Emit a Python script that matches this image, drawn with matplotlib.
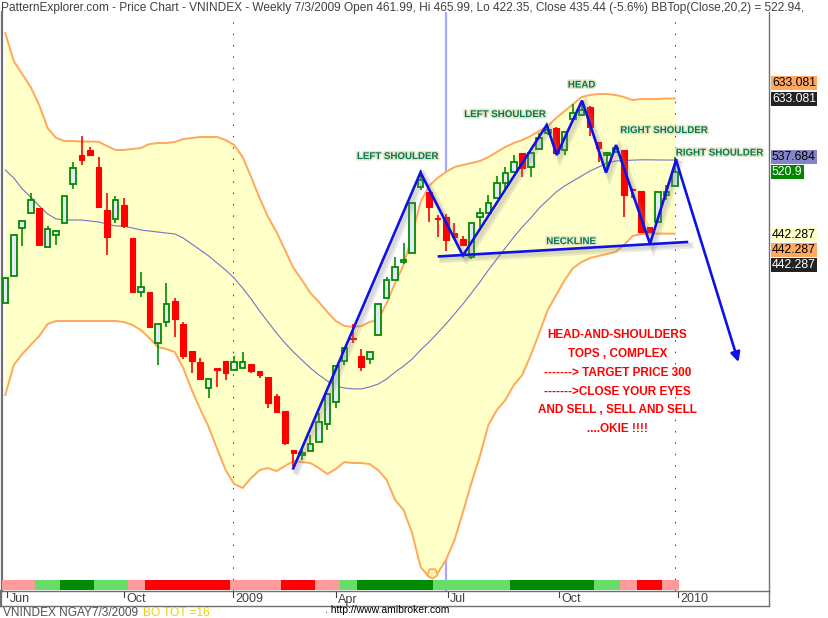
import numpy as np
import matplotlib
matplotlib.use("Agg")
import matplotlib.pyplot as plt
from matplotlib.lines import Line2D
from matplotlib.patches import Rectangle
import matplotlib.patheffects as pe
import matplotlib.transforms as mtransforms

plt.rcParams['font.family'] = ['Liberation Sans', 'DejaVu Sans']

# ---------------- data (weekly VNINDEX, Jun 2008 - Jan 2010) ----------------
opens = [367.7, 395.8, 448.4, 467.2, 473.4, 426.6, 440.4, 455.0, 504.2, 545.3,
         552.2, 527.8, 470.9, 459.5, 477.2, 437.2, 378.5, 378.8, 330.7, 349.6,
         369.9, 348.1, 324.0, 314.6, 293.5, 309.6, 315.4, 307.8, 309.9, 312.8,
         307.2, 302.7, 287.6, 276.2, 249.1, 245.8, 248.4, 254.3, 266.8, 282.8,
         315.4, 335.5, 320.0, 317.1, 337.6, 372.4, 390.8, 410.2, 419.9, 500.3,
         494.4, 461.5, 461.99, 443.0, 436.3, 416.1, 462.3, 467.2, 485.7, 505.6,
         520.9, 547.8, 527.8, 553.3, 577.2, 585.8, 552.2, 599.0, 605.8, 619.2,
         564.5, 544.9, 549.7, 552.2, 497.3, 495.3, 450.6, 456.6, 490.1, 501.4]
highs = [392.9, 440.7, 457.1, 492.7, 473.4, 451.0, 446.5, 488.4, 534.9, 573.1,
         556.3, 542.6, 493.1, 488.8, 486.1, 437.2, 399.5, 378.8, 347.8, 388.0,
         372.5, 349.6, 324.0, 317.6, 300.6, 310.1, 315.4, 319.7, 323.1, 312.8,
         307.2, 302.7, 289.1, 276.2, 249.1, 249.1, 259.2, 274.6, 288.8, 311.7,
         326.3, 347.9, 325.5, 322.9, 366.7, 394.6, 416.2, 431.1, 479.4, 523.7,
         494.4, 464.8, 465.99, 455.3, 439.5, 454.6, 473.4, 490.1, 515.4, 527.8,
         544.9, 547.8, 547.8, 577.2, 589.2, 587.0, 579.7, 623.3, 628.8, 621.0,
         564.5, 549.7, 559.5, 552.2, 498.9, 495.3, 450.6, 494.4, 503.5, 541.5]
lows = [367.7, 395.8, 427.5, 467.2, 428.1, 426.6, 429.2, 455.0, 498.4, 530.7,
        545.3, 475.1, 418.0, 454.6, 448.5, 379.1, 373.6, 345.6, 312.1, 345.6,
        336.5, 317.1, 305.4, 301.0, 286.3, 294.7, 300.0, 307.8, 309.9, 305.8,
        301.8, 278.8, 275.7, 252.5, 238.3, 242.6, 248.4, 254.3, 262.7, 278.4,
        312.2, 331.2, 307.2, 312.8, 337.6, 372.4, 390.8, 408.0, 419.9, 496.6,
        456.6, 438.7, 422.35, 438.3, 428.8, 413.6, 450.3, 467.2, 485.7, 496.6,
        520.9, 514.0, 514.0, 553.3, 575.0, 548.3, 544.9, 599.0, 605.8, 573.1,
        534.5, 523.7, 549.7, 462.7, 485.7, 444.6, 442.7, 456.6, 483.6, 501.4]
closes = [392.9, 440.7, 457.1, 483.2, 429.2, 447.8, 445.0, 488.4, 525.9, 538.1,
          545.3, 475.1, 438.7, 483.2, 451.4, 379.1, 383.6, 345.6, 347.8, 367.0,
          352.7, 320.0, 315.7, 301.0, 300.6, 308.0, 305.8, 314.4, 314.4, 307.4,
          304.0, 282.5, 275.7, 253.6, 247.3, 247.1, 253.2, 268.1, 288.8, 311.7,
          326.3, 334.7, 310.8, 322.9, 366.7, 391.1, 405.2, 412.4, 479.4, 510.0,
          475.1, 460.0, 435.44, 438.3, 428.8, 454.6, 467.2, 480.1, 506.4, 519.1,
          534.9, 526.9, 547.8, 569.6, 582.3, 548.3, 579.7, 608.6, 614.0, 587.5,
          554.7, 547.4, 554.7, 490.1, 496.0, 444.6, 444.6, 494.4, 494.4, 520.9]

bb_top = [753.0, 699.0, 675.4, 652.5, 622.1, 585.2, 570.0, 565.5, 565.5, 564.7,
          564.7, 564.4, 558.1, 552.2, 552.2, 553.7, 555.1, 561.0, 562.5, 562.5,
          564.0, 568.5, 570.0, 571.6, 571.6, 571.6, 567.0, 559.6, 542.2, 514.1,
          486.2, 462.3, 444.2, 423.6, 403.8, 391.1, 377.8, 368.9, 359.3, 350.8,
          346.2, 345.3, 346.2, 349.9, 351.8, 368.0, 388.0, 407.0, 440.7, 481.0,
          502.0, 512.7, 520.9, 527.8, 530.6, 533.5, 536.3, 542.1, 549.3, 556.6,
          562.5, 567.0, 573.1, 580.7, 588.5, 601.1, 612.4, 623.8, 635.5, 638.9,
          640.6, 640.6, 638.9, 635.5, 630.4, 632.1, 632.1, 632.1, 633.0, 633.081]
bb_mid = [523.7, 512.7, 498.0, 487.5, 476.0, 466.0, 459.9, 458.6, 458.6, 458.6,
          457.4, 456.2, 453.8, 451.4, 451.4, 449.0, 446.6, 445.4, 444.2, 443.0,
          441.9, 437.2, 430.3, 423.6, 416.9, 409.1, 401.6, 393.2, 382.9, 371.9,
          360.3, 349.9, 339.8, 330.9, 323.1, 316.3, 309.7, 304.0, 299.2, 295.3,
          293.7, 293.0, 293.0, 294.5, 296.8, 300.8, 306.4, 311.3, 317.1, 324.8,
          331.8, 339.8, 348.1, 357.4, 367.0, 377.8, 389.0, 401.6, 413.5, 425.8,
          438.3, 450.2, 461.1, 473.4, 483.6, 494.0, 502.0, 508.7, 515.5, 522.3,
          527.8, 533.5, 536.3, 537.0, 537.5, 538.0, 538.0, 537.8, 537.7, 537.684]
bb_bot = [288.3, 312.1, 321.4, 329.2, 337.1, 348.1, 350.8, 350.8, 350.8, 350.8,
          350.8, 350.8, 350.8, 350.8, 349.9, 347.2, 342.5, 335.3, 327.4, 325.7,
          323.1, 309.6, 292.1, 277.7, 264.8, 249.8, 236.2, 227.7, 225.3, 231.3,
          236.2, 237.5, 235.6, 238.8, 242.0, 241.3, 240.7, 237.5, 233.8, 236.9,
          241.3, 240.7, 240.7, 240.0, 236.2, 230.1, 218.2, 212.4, 199.9, 182.7,
          177.9, 179.7, 186.1, 196.2, 211.3, 228.3, 245.2, 266.2, 277.0, 284.5,
          296.0, 304.0, 320.5, 339.8, 361.2, 375.8, 391.1, 403.8, 410.2, 414.6,
          416.9, 419.1, 421.3, 429.2, 439.5, 441.9, 442.3, 442.3, 442.3, 442.287]

# ribbon colours per run of bars
ribbon_runs = [('#ff9a9a', 4), ('#66dd66', 3), ('#008c00', 4), ('#66dd66', 4),
               ('#ff9a9a', 2), ('#ff0000', 10), ('#ff9a9a', 6), ('#ff0000', 4),
               ('#ff9a9a', 3), ('#66dd66', 2), ('#008c00', 9), ('#66dd66', 9),
               ('#008c00', 10), ('#66dd66', 3), ('#ff9a9a', 2), ('#ff0000', 3),
               ('#ff9a9a', 2)]

tick_pos = [0.2, 14.0, 26.9, 39.0, 52.2, 65.3, 79.4]
tick_labels = ['Jun', 'Oct', '2009', 'Apr', 'Jul', 'Oct', '2010']
year_sep = [26.9, 79.0]
cursor_bar = 52

# head-and-shoulders drawing (bar index, price)
zig_x = [33.98, 48.99, 54.0, 63.88, 65.06, 68.05, 70.88, 72.06, 76.07, 79.14]
zig_y = [237.3, 520.2, 417.4, 590.0, 545.0, 629.6, 520.0, 559.5, 430.4, 537.7]
arrow_end = (86.51, 314.6)
neck_x = [51.17, 80.43]
neck_y = [416.4, 432.6]

pattern_labels = [('LEFT SHOULDER', 46.3, 543.5), ('LEFT SHOULDER', 58.96, 607.5),
                  ('HEAD', 68.0, 656.9), ('RIGHT SHOULDER', 77.72, 582.3),
                  ('RIGHT SHOULDER', 84.27, 548.6), ('NECKLINE', 66.75, 433.7)]
note_lines = ['HEAD-AND-SHOULDERS', 'TOPS , COMPLEX', '-------> TARGET PRICE 300',
              '------->CLOSE YOUR EYES', 'AND SELL , SELL AND SELL', '....OKIE !!!!']
note_y = [338.0, 321.4, 306.0, 290.6, 277.0, 263.4]
note_x = 72.2

# ---------------- figure ----------------
W, H = 829, 618
fig = plt.figure(figsize=(W / 100, H / 100), dpi=100)
L, R, T, B = 2, 769, 12, 591
ax = fig.add_axes([L / W, 1 - B / H, (R - L) / W, (B - T) / H])
ax.set_yscale('log')
ax.set_xlim(-0.389, 90.11)
ax.set_ylim(171.4, 796.3)
ax.set_xticks([])
ax.set_yticks([])
ax.yaxis.set_minor_locator(matplotlib.ticker.NullLocator())
ax.spines['top'].set_visible(False)
for s in ['left', 'right', 'bottom']:
    ax.spines[s].set_color('#707070')
    ax.spines[s].set_linewidth(1.0)
ax.spines['left'].set_linewidth(1.6)

idx = np.arange(len(closes))
o = np.array(opens); h = np.array(highs); l = np.array(lows); c = np.array(closes)

# cursor line behind the band fill
ax.axvline(cursor_bar, color='#a8a8ff', lw=1.6, zorder=0.5)

# Bollinger bands
ax.fill_between(idx, bb_bot, bb_top, color='#ffffc8', zorder=1, lw=0)
ax.plot(idx, bb_top, color='#ffa858', lw=1.4, zorder=2)
ax.plot(idx, bb_bot, color='#ffa858', lw=1.4, zorder=2)
ax.plot(idx, bb_mid, color='#7474c4', lw=0.8, zorder=2)

# year separators
for xs in year_sep:
    ax.axvline(xs, color='#404040', lw=0.75, linestyle=(0, (1.4, 9.5)), zorder=2.5)

# candles
GREEN = '#008c00'
RED = '#ff0000'
up = c >= o
ax.vlines(idx[up], l[up], h[up], color=GREEN, lw=1.2, zorder=3)
ax.vlines(idx[~up], l[~up], h[~up], color=RED, lw=1.2, zorder=3)
ax.bar(idx[up], (c - o)[up], bottom=o[up], width=0.66, facecolor='#e6e9f8',
       edgecolor=GREEN, linewidth=1.3, zorder=4)
ax.bar(idx[~up], (o - c)[~up], bottom=c[~up], width=0.66, facecolor=RED,
       edgecolor=RED, linewidth=0.8, zorder=4)

# ribbon at the bottom
btrans = mtransforms.blended_transform_factory(ax.transData, ax.transAxes)
start = -0.5
for col, n in ribbon_runs:
    ax.add_patch(Rectangle((start, 1.0 / (B - T)), n, 10.0 / (B - T), transform=btrans,
                           facecolor=col, edgecolor='none', zorder=5))
    start += n

# small marker near cursor at bottom
ax.scatter([50.3], [0.031], transform=btrans, marker=(5, 0, 180), s=60,
           facecolor='#fff0b0', edgecolor='#ffa040', linewidth=1.0, zorder=6, clip_on=False)

# blue pattern lines with soft shadow
BLUE = '#1010e8'
shadow = [pe.SimpleLineShadow(offset=(2.5, -2.5), shadow_color='#808080', alpha=0.18, linewidth=4.5),
          pe.SimpleLineShadow(offset=(2.0, -2.0), shadow_color='#808080', alpha=0.15, linewidth=2.5),
          pe.Normal()]
zl, = ax.plot(zig_x, zig_y, color=BLUE, lw=1.9, zorder=7, solid_joinstyle='miter')
zl.set_path_effects(shadow)
nl, = ax.plot(neck_x, neck_y, color=BLUE, lw=1.9, zorder=7)
nl.set_path_effects(shadow)
ann = ax.annotate('', xy=arrow_end, xytext=(zig_x[-1], zig_y[-1]),
                  arrowprops=dict(arrowstyle='-|>', color=BLUE, lw=1.9,
                                  mutation_scale=14, shrinkA=0, shrinkB=0), zorder=7)

# pattern labels
glow = [pe.withStroke(linewidth=2.2, foreground='#e6e6c0')]
for txt, xx, yy in pattern_labels:
    ax.text(xx, yy, txt, color='#00785a', fontsize=7, fontweight='bold',
            ha='center', va='center', zorder=8, path_effects=glow)

for txt, yy in zip(note_lines, note_y):
    ax.text(note_x, yy, txt, color='#ff0000', fontsize=8.5, fontweight='bold',
            ha='center', va='center', zorder=8)

# x-axis labels area
for tp, tl in zip(tick_pos, tick_labels):
    xpix = ax.transData.transform((tp, 300))[0]
    fig.add_artist(Line2D([xpix / W, xpix / W], [1 - 592 / H, 1 - 597 / H],
                          transform=fig.transFigure, color='#404040', lw=0.8))
    fig.text((xpix + 2.5) / W, 1 - 599.5 / H, tl, ha='left', va='center',
             fontsize=9, color='#404040')

fig.add_artist(Line2D([0, R / W], [1 - 606 / H, 1 - 606 / H], transform=fig.transFigure,
                      color='#707070', lw=1.0))
fig.add_artist(Line2D([R / W + 0.0003, R / W + 0.0003], [1 - 591 / H, 1 - 606 / H],
                      transform=fig.transFigure, color='#707070', lw=1.0))
fig.add_artist(Line2D([1 / W, 1 / W], [1 - 591 / H, 1 - 606 / H],
                      transform=fig.transFigure, color='#707070', lw=1.6))

# right-side value labels
right_labels = [(f"{bb_top[-1]:.3f}", 83, '#ffa860', 'black'),
                (f"{bb_top[-1]:.3f}", 99, '#222222', 'white'),
                (f"{bb_mid[-1]:.3f}", 157, '#8484c8', 'black'),
                (f"{closes[-1]:.1f}", 172, '#008800', 'white'),
                (f"{bb_bot[-1]:.3f}", 235, '#ffffc8', 'black'),
                (f"{bb_bot[-1]:.3f}", 250, '#ffa860', 'black'),
                (f"{bb_bot[-1]:.3f}", 265, '#222222', 'white')]
for txt, yc, bg, tc in right_labels:
    fig.text(772 / W, 1 - yc / H, txt, ha='left', va='center', fontsize=8.8, color=tc,
             bbox=dict(boxstyle='square,pad=0.12', fc=bg, ec='none'))

# title and footer
title = ("PatternExplorer.com - Price Chart - VNINDEX - Weekly 7/3/2009 Open 461.99, "
         "Hi 465.99, Lo 422.35, Close 435.44 (-5.6%) BBTop(Close,20,2) = 522.94,")
fig.text(1 / W, 1 - 8 / H, title, ha='left', va='center', fontsize=8.6, color='#404040')
fig.text(3 / W, 1 - 612.5 / H, 'VNINDEX NGAY7/3/2009', ha='left', va='center',
         fontsize=8.6, color='#505050')
fig.text(143 / W, 1 - 612.5 / H, 'BO TOT =16', ha='left', va='center',
         fontsize=8.6, color='#f0d000')
fig.text(325 / W, 1 - 610 / H, '. http://www.amibroker.com', ha='left', va='center',
         fontsize=7.5, color='black')

fig.savefig('out.png', dpi=100)
